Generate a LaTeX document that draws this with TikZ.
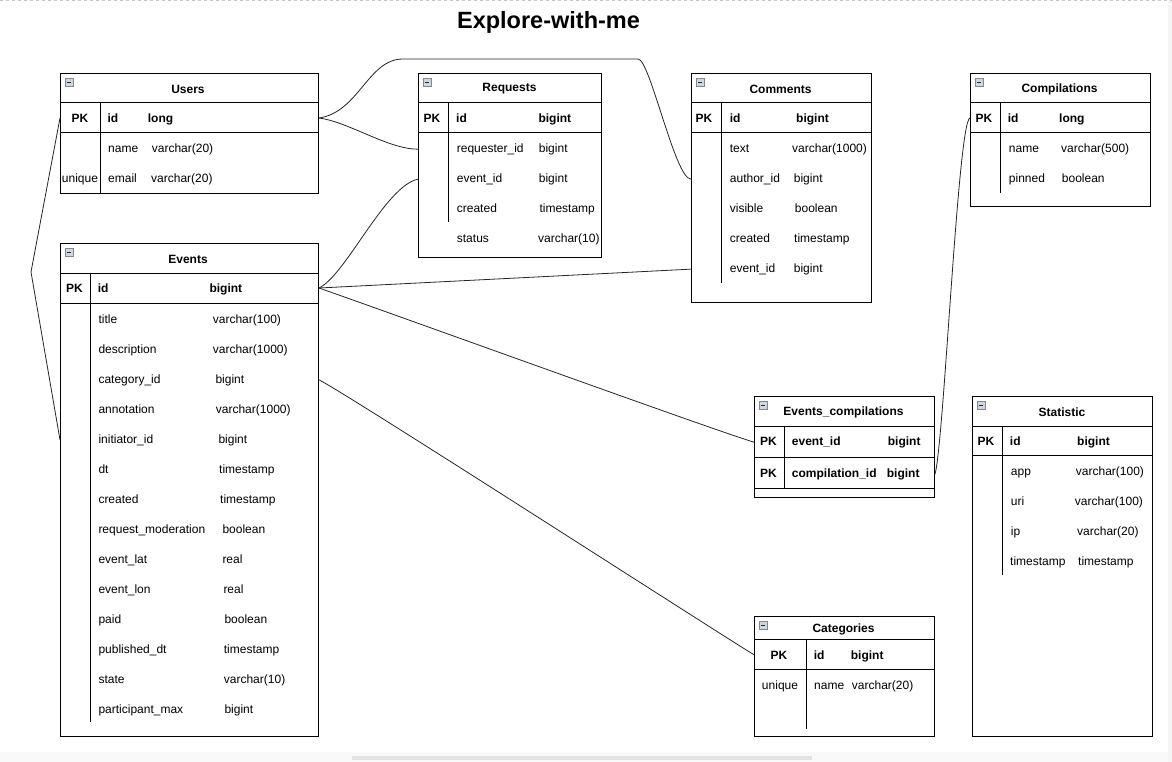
\documentclass[tikz,border=0pt]{standalone}
\usepackage{fontspec}
\setmainfont{Liberation Sans}
\usetikzlibrary{positioning}

\definecolor{iconfill}{RGB}{208,214,224}
\definecolor{iconedge}{RGB}{130,135,145}

\tikzset{
  tblbox/.style={draw, line width=1pt, anchor=north west, inner sep=0pt},
  ttl/.style={font=\bfseries\fontsize{12}{14}\selectfont, inner sep=0pt},
  fld/.style={anchor=base west, inner sep=0pt, yshift=-4.3pt, font=\fontsize{12}{14}\selectfont},
  key/.style={fld, font=\bfseries\fontsize{12}{14}\selectfont},
  keyc/.style={fld, anchor=base, font=\bfseries\fontsize{12}{14}\selectfont},
  uniq/.style={fld, anchor=base},
  rule/.style={line width=1pt},
  rel/.style={line width=0.8pt, black!85},
}
% small collapse icon in the corner of a table
\newcommand\collapse[1]{%
  \draw[iconedge, fill=iconfill, line width=0.7pt] (#1.north west) ++(5,5.5) rectangle ++(8,8);
  \draw[black!85, line width=1pt] (#1.north west) ++(6.8,9.5) -- ++(4.4,0);
}

\begin{document}
\begin{tikzpicture}[x=1pt,y=-1pt]
\useasboundingbox (0,0) rectangle (1172,762);
\fill[white] (0,0) rectangle (1172,762);
\fill[gray!5] (0,752) rectangle (1172,762);
\fill[gray!8] (1168,0) rectangle (1172,762);
\fill[gray!22] (352,755.5) rectangle (812,760);
\draw[gray!45, dashed, line width=0.8pt] (0,0.5) -- (1172,0.5);

\node[font=\bfseries\fontsize{23.5}{28}\selectfont] (title) at (548.5,22.5) {Explore-with-me};

% Users
\node[tblbox, minimum width=258pt, minimum height=120pt] (users) at (60,73) {};
\collapse{users}
\node[ttl] at (188,89) {Users};
\draw[rule] (60,103) -- (318,103) (60,133) -- (318,133) (100,103) -- (100,193);
\node[keyc] (u-pk) at (80,118) {PK};
\node[key] (u-id) at (107.3,118) {id};
\node[key] at (147.7,118) {long};
\node[fld] (u-name) at (108,148) {name};
\node[fld] at (151.7,148) {varchar(20)};
\node[uniq] at (80,178) {unique};
\node[fld] (u-mail) at (108,178) {email};
\node[fld] at (151,178) {varchar(20)};

% Events
\node[tblbox, minimum width=258pt, minimum height=493pt] (events) at (60,243) {};
\collapse{events}
\node[ttl] at (188,259) {Events};
\draw[rule] (60,273) -- (318,273) (60,303) -- (318,303) (90,273) -- (90,722);
\node[keyc] at (74.5,288) {PK};
\node[key] (ev-id) at (97.7,288) {id};
\node[key] at (209.3,288) {bigint};
\foreach \nm/\tp/\tx [count=\i from 0] in {title/varchar(100)/212.7,
    description/varchar(1000)/212.7, category\_id/bigint/215.3,
    annotation/varchar(1000)/215.7, initiator\_id/bigint/218.3,
    dt/timestamp/219, created/timestamp/220,
    request\_moderation/boolean/222.3, event\_lat/real/222.3,
    event\_lon/real/223.3, paid/boolean/224.3,
    published\_dt/timestamp/223.7, state/varchar(10)/223.7,
    participant\_max/bigint/224.3} {
  \node[fld] (ev-\i) at (98.3,318.7+30*\i) {\nm};
  \node[fld] (evt-\i) at (\tx,318.7+30*\i) {\tp};
}

% Requests
\node[tblbox, minimum width=183pt, minimum height=184pt] (requests) at (418,73) {};
\collapse{requests}
\node[ttl] at (509.5,89) {Requests};
\draw[rule] (418,103) -- (601,103) (418,133) -- (601,133) (448,103) -- (448,222);
\node[keyc] at (432,118) {PK};
\node[key] (rq-id) at (456,118) {id};
\node[key] at (538.3,118) {bigint};
\node[fld] (rq-req) at (456.7,148) {requester\_id};
\node[fld] at (538.7,148) {bigint};
\node[fld] (rq-ev) at (456.7,178) {event\_id};
\node[fld] at (538.7,178) {bigint};
\node[fld] (rq-cr) at (456.7,208) {created};
\node[fld] at (539.3,208) {timestamp};
\node[fld] (rq-st) at (456.7,238.5) {status};
\node[fld] at (538,238.5) {varchar(10)};

% Comments
\node[tblbox, minimum width=180pt, minimum height=229pt] (comments) at (691,73) {};
\collapse{comments}
\node[ttl] at (780.5,89) {Comments};
\draw[rule] (691,103) -- (871,103) (691,133) -- (871,133) (721,103) -- (721,283);
\node[keyc] at (704,118) {PK};
\node[key] (cm-id) at (729.7,118) {id};
\node[key] at (796,118) {bigint};
\node[fld] (cm-tx) at (729.7,148) {text};
\node[fld] at (792,148) {varchar(1000)};
\node[fld] (cm-au) at (729.7,178) {author\_id};
\node[fld] at (793.7,178) {bigint};
\node[fld] (cm-vi) at (729.7,208) {visible};
\node[fld] at (794.7,208) {boolean};
\node[fld] (cm-cr) at (729.7,238) {created};
\node[fld] at (794,238) {timestamp};
\node[fld] (cm-ev) at (729.7,268) {event\_id};
\node[fld] at (793.7,268) {bigint};

% Compilations
\node[tblbox, minimum width=180pt, minimum height=133pt] (compil) at (970,73) {};
\collapse{compil}
\node[ttl] at (1059.5,89) {Compilations};
\draw[rule] (970,103) -- (1150,103) (970,133) -- (1150,133) (1000,103) -- (1000,193);
\node[keyc] (cp-pk) at (984,118) {PK};
\node[key] (cp-id) at (1007.7,118) {id};
\node[key] at (1059,118) {long};
\node[fld] (cp-nm) at (1008.7,148) {name};
\node[fld] at (1061,148) {varchar(500)};
\node[fld] (cp-pn) at (1008.7,178) {pinned};
\node[fld] at (1061.7,178) {boolean};

% Events_compilations
\node[tblbox, minimum width=180pt, minimum height=101pt] (evcomp) at (754,396) {};
\collapse{evcomp}
\node[ttl] at (843.5,412) {Events\_compilations};
\draw[rule] (754,426) -- (934,426) (754,457) -- (934,457) (754,488) -- (934,488) (784,426) -- (784,488);
\node[keyc] at (768.5,441.5) {PK};
\node[key] (ec-ev) at (791.7,441.5) {event\_id};
\node[key] at (887.7,441.5) {bigint};
\node[keyc] at (768.5,473) {PK};
\node[key] (ec-cp) at (791.7,473) {compilation\_id};
\node[key] at (886.7,473) {bigint};

% Statistic
\node[tblbox, minimum width=180pt, minimum height=340pt] (stats) at (972,396) {};
\collapse{stats}
\node[ttl] at (1062,412) {Statistic};
\draw[rule] (972,426) -- (1152,426) (972,455) -- (1152,455) (1002,426) -- (1002,575);
\node[keyc] at (986,440.7) {PK};
\node[key] (st-id) at (1009.7,440.7) {id};
\node[key] at (1077,440.7) {bigint};
\node[fld] (st-app) at (1010.7,470.7) {app};
\node[fld] at (1075.7,470.7) {varchar(100)};
\node[fld] (st-uri) at (1010.7,500.7) {uri};
\node[fld] at (1074.7,500.7) {varchar(100)};
\node[fld] (st-ip) at (1010.7,530.7) {ip};
\node[fld] at (1077,530.7) {varchar(20)};
\node[fld] (st-ts) at (1010,560.7) {timestamp};
\node[fld] at (1078,560.7) {timestamp};

% Categories
\node[tblbox, minimum width=180pt, minimum height=120pt] (categ) at (754,616) {};
\collapse{categ}
\node[ttl] at (843.5,629) {Categories};
\draw[rule] (754,639) -- (934,639) (754,669) -- (934,669) (806,639) -- (806,729);
\node[keyc] at (779,654.7) {PK};
\node[key] (ct-id) at (813.7,654.7) {id};
\node[key] at (850.7,654.7) {bigint};
\node[uniq] at (780,684.7) {unique};
\node[fld] (ct-nm) at (814,684.7) {name};
\node[fld] at (851.7,684.7) {varchar(20)};

% relations
\coordinate (bendU) at (31,272);
\coordinate (topA) at (403,59);
\coordinate (topB) at (638,59);
\draw[rel] (users.east |- u-id) .. controls +(30,4) and +(-30,0) .. (requests.west |- rq-req);
\draw[rel] (users.east |- u-id) .. controls +(40,-6) and +(-35,0) .. (topA) -- (topB)
  .. controls +(12,0) and +(-16,0) .. (comments.west |- cm-au);
\draw[rel] (users.west |- u-id) -- (bendU) -- (events.west |- ev-4);
\draw[rel] (events.east |- ev-id) .. controls +(27,-13) and +(-33,7) .. (requests.west |- rq-ev);
\draw[rel] (events.east |- ev-id) -- (comments.west |- cm-ev);
\draw[rel] (events.east |- ev-id) .. controls +(80,28) and +(-40,-12) .. (evcomp.west |- ec-ev);
\draw[rel] (events.east |- ev-2) .. controls +(22,10) and +(-24,-14) .. (categ.west |- ct-id);
\draw[rel] (evcomp.east |- ec-cp) .. controls +(9,-32) and +(-12,2) .. (compil.west |- cp-id);
\end{tikzpicture}
\end{document}
